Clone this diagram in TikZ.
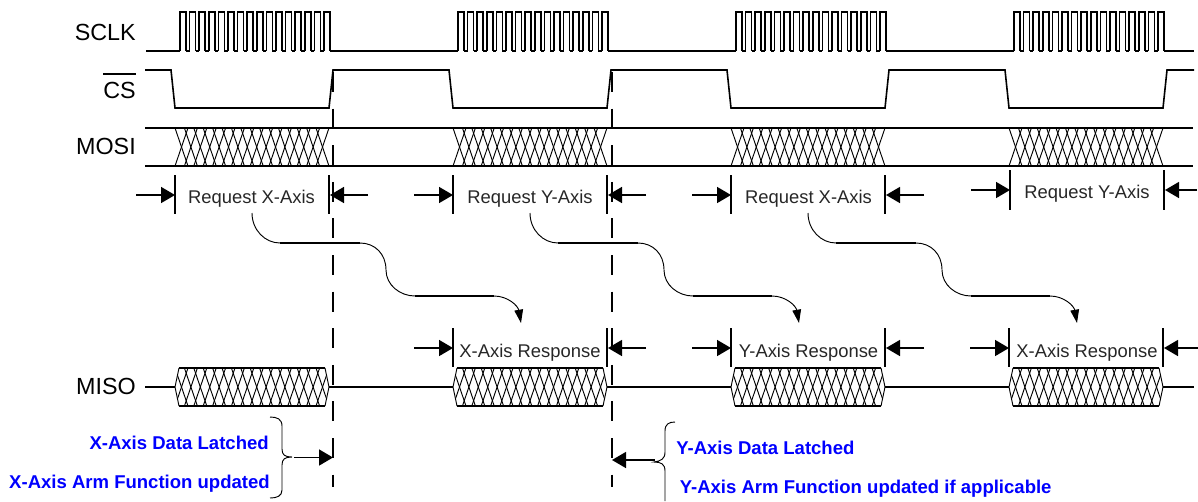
\documentclass[tikz,border=0pt]{standalone}
\usepackage{fontspec}
\setmainfont{Liberation Sans}
\usetikzlibrary{arrows.meta}
\tikzset{
  wave/.style={line width=1.2pt},
  hatch/.style={line width=0.7pt},
  marker/.style={line width=1.2pt},
  thin curve/.style={line width=0.7pt},
  span arrow/.style={line width=1.2pt, -{Triangle[length=10.5pt,width=12pt]}},
  latch line/.style={line width=1.2pt, dash pattern=on 15pt off 12.45pt},
  signal/.style={anchor=east, inner sep=0pt, font=\fontsize{17.5}{20}\selectfont},
  span label/.style={font=\fontsize{13.8}{16}\selectfont, text=black!85},
  note/.style={inner sep=0pt, font=\fontsize{13.9}{16}\selectfont\bfseries, text=blue},
}
\begin{document}
\begin{tikzpicture}[x=0.75pt,y=-0.75pt]
\useasboundingbox (0,0) rectangle (1198,501);

\node[signal] (sclk) at (136,32) {SCLK};
\node[signal] (cs) at (136,90) {CS};
\node[signal] (mosi) at (136,146) {MOSI};
\node[signal] (miso) at (136,386) {MISO};
\draw[line width=0.9pt] (103,74) -- (136,74);

\draw[wave] (146,51) -- (180,51) (330,51) -- (458,51) (608,51) -- (736,51) (886,51) -- (1014,51) (1164,51) -- (1194,51);
\draw[wave] (145,70) -- (171,70) -- (175,108) -- (329,108) -- (333,70)
  -- (449,70) -- (453,108) -- (607,108) -- (611,70)
  -- (727,70) -- (731,108) -- (885,108) -- (889,70)
  -- (1005,70) -- (1009,108) -- (1163,108) -- (1167,70) -- (1194,70);
\draw[wave] (145,128) -- (1193,128);
\draw[wave] (145,166) -- (1193,166);
\draw[wave] (145,387) -- (175,387) (329,387) -- (453,387) (607,387) -- (731,387) (885,387) -- (1009,387) (1163,387) -- (1194,387);

\foreach \g in {0,1,2,3} {
  \begin{scope}[xshift=\g*208.5pt]
    \foreach \i in {0,...,15} {
      \draw[wave] ({180+\i*9.6},51) -- ({180+\i*9.6},12) -- ({186+\i*9.6},12) -- ({186+\i*9.6},51);
      \draw[hatch] ({175+\i*9.4},128) -- ({188+\i*9.4},166);
      \draw[hatch] ({175+\i*9.4},166) -- ({188+\i*9.4},128);
    }
    \draw[wave] (180,51) \foreach \i in {0,...,14} { ({186+\i*9.6},51) -- ({189.6+\i*9.6},51) };
    \begin{scope}
      \clip (175,387) -- (179,368) -- (325,368) -- (329,387) -- (325,406) -- (179,406) -- cycle;
      \foreach \i in {0,...,15} {
        \draw[hatch] ({175+\i*9.4},368) -- ({188+\i*9.4},406);
        \draw[hatch] ({175+\i*9.4},406) -- ({188+\i*9.4},368);
      }
    \end{scope}
    \draw[hatch] (179,368) -- (175,387) -- (179,406) (325,368) -- (329,387) -- (325,406);
    \draw[wave] (179,368) -- (325,368) (179,406) -- (325,406);
  \end{scope}
}

\foreach \g in {0,1,2} {
  \begin{scope}[xshift=\g*208.5pt]
    \draw[marker] (175,175) -- (175,214) (329,175) -- (329,214);
    \draw[span arrow] (136,195) -- (175,195);
    \draw[span arrow] (368,195) -- (330,195);
    \draw[thin curve] (252,213) .. controls (252,230) and (265,243) .. (280,243);
    \draw[wave] (280,243) -- (360,243);
    \draw[thin curve] (360,243) .. controls (375,243) and (386,254) .. (386,270) .. controls (386,285) and (400,296) .. (415,296);
    \draw[wave] (415,296) -- (494,296);
    \draw[thin curve, -{Triangle[length=10pt,width=6.5pt]}] (494,296) .. controls (508,296) and (518,306) .. (521,323);
  \end{scope}
}
\draw[marker] (1010,170) -- (1010,210) (1164,170) -- (1164,210);
\draw[span arrow] (971,190) -- (1010,190);
\draw[span arrow] (1197,190) -- (1165,190);

\foreach \g in {0,1,2} {
  \begin{scope}[xshift=\g*208.5pt]
    \draw[marker] (453,328) -- (453,367) (607,328) -- (607,367);
    \draw[span arrow] (414,348) -- (453,348);
    \draw[span arrow] (646,348) -- (608,348);
  \end{scope}
}

\node[span label] (reqa) at (251.5,199) {Request X-Axis};
\node[span label] (reqb) at (530,199) {Request Y-Axis};
\node[span label] (reqc) at (808.5,199) {Request X-Axis};
\node[span label] (reqd) at (1087,194) {Request Y-Axis};
\node[span label] (respa) at (530,353) {X-Axis Response};
\node[span label] (respb) at (808.5,353) {Y-Axis Response};
\node[span label] (respc) at (1087,353) {X-Axis Response};

\draw[latch line] (333,72) -- (333,487);
\draw[latch line] (612,72) -- (612,487);

\draw[thin curve] (270,417) .. controls (277,417) and (282,419) .. (282,426) -- (282,449) .. controls (282,455) and (285,457) .. (292,457)
  .. controls (285,457) and (282,459) .. (282,465) -- (282,490) .. controls (282,496) and (277,498) .. (270,498);
\draw[span arrow] (294,457.5) -- (333,457.5);
\draw[thin curve] (675,422) .. controls (669,422) and (665,424) .. (665,431) -- (665,452) .. controls (665,459) and (661,461) .. (654,462)
  .. controls (661,462) and (665,464) .. (665,471) -- (665,501);
\draw[span arrow] (655,460) -- (612,460);

\node[note, anchor=east] (latcha) at (269,443) {X-Axis Data Latched};
\node[note, anchor=east] (armx) at (270,483.5) {X-Axis Arm Function updated};
\node[note, anchor=west] (latchb) at (676,447.5) {Y-Axis Data Latched};
\node[note, anchor=west] (army) at (679.5,489) {Y-Axis Arm Function updated if applicable};
\end{tikzpicture}
\end{document}
